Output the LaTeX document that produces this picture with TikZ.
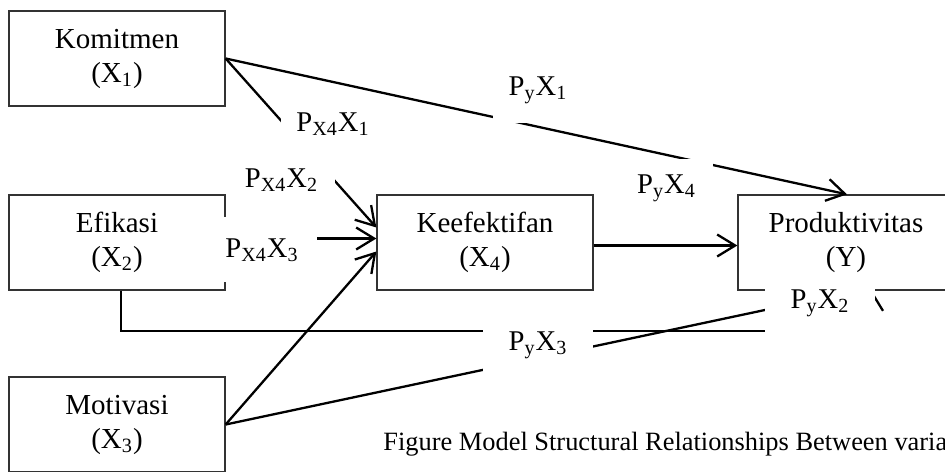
\documentclass[tikz,border=0pt]{standalone}
\usepackage{fontspec}
\setmainfont{Liberation Serif}
\usepackage{tikz}
\usetikzlibrary{arrows.meta, positioning}
\tikzstyle{varbox} = [rectangle, minimum width=108pt, minimum height=47.5pt, align=center, draw=black!80, line width=0.65pt, font=\fontsize{14.5}{17}\selectfont]
\tikzstyle{coef} = [rectangle, fill=white, inner sep=0pt, anchor=base, font=\fontsize{14.3}{17}\selectfont]
\tikzstyle{arrow} = [line width=1.15pt, -{Straight Barb[length=9pt,width=11pt]}]

\begin{document}
\begin{tikzpicture}[x=0.5pt, y=-0.5pt]
                \useasboundingbox (0,0) rectangle (945,471);
                \clip (0,0) rectangle (945,471);
                % variables
                \node (komitmen) [varbox] at (117,58.5) {Komitmen\\(X\textsubscript{1})};
                \node (efikasi) [varbox, below of=komitmen, node distance=92pt] {Efikasi\\(X\textsubscript{2})};
                \node (motivasi) [varbox, below of=efikasi, node distance=91pt] {Motivasi\\(X\textsubscript{3})};
                \node (keef) [varbox, right of=efikasi, node distance=184pt] {Keefektifan\\(X\textsubscript{4})};
                \node (produk) [varbox, right of=keef, node distance=180.5pt] {Produktivitas\\(Y)};
                % paths
                \draw [arrow] (komitmen.east) -- ([xshift=0.5pt]produk.north);
                \draw [arrow] (komitmen.east) -- ([yshift=7.5pt]keef.west);
                \draw [arrow] ([yshift=2pt]efikasi.east) -- ([yshift=2pt]efikasi.east -| keef.west);
                \draw [arrow] (motivasi.east) -- ([yshift=-4.5pt]keef.west);
                \draw [arrow] ([yshift=-1.5pt]keef.east) -- ([yshift=-1.5pt]produk.west);
                \draw [arrow] (motivasi.east) -- ([xshift=5pt]produk.south);
                \coordinate (turn) at (872,331);
                \draw [arrow] ([xshift=2pt]efikasi.south) |- (turn) -- (turn |- produk.south);
                % coefficients
                \node (px4x1) [coef, minimum width=52pt, text height=15.5pt, text depth=9.5pt] at (333,131) {P\textsubscript{X4}X\textsubscript{1}};
                \node (px4x2) [coef, minimum width=53.5pt, text height=21pt, text depth=9pt] at (281.5,187) {P\textsubscript{X4}X\textsubscript{2}};
                \node (px4x3) [coef, minimum width=55pt, text height=20pt, text depth=12.5pt] at (262,257) {P\textsubscript{X4}X\textsubscript{3}};
                \node (pyx1) [coef, minimum width=45pt, text height=17.5pt, text depth=13.75pt] at (538,95) {P\textsubscript{y}X\textsubscript{1}};
                \node (pyx4) [coef, minimum width=46.5pt, text height=17pt, text depth=9.5pt] at (666.5,193) {P\textsubscript{y}X\textsubscript{4}};
                \node (pyx2) [coef, minimum width=55pt, text height=13.5pt, text depth=16pt] at (820,308) {P\textsubscript{y}X\textsubscript{2}};
                \node (pyx3) [coef, minimum width=55pt, text height=15pt, text depth=14pt] at (538,350) {P\textsubscript{y}X\textsubscript{3}};
                \node (caption) [anchor=base west, inner sep=0pt, font=\fontsize{13.2}{16}\selectfont] at (383,450) {Figure Model Structural Relationships Between variables};
            \end{tikzpicture}
\end{document}
